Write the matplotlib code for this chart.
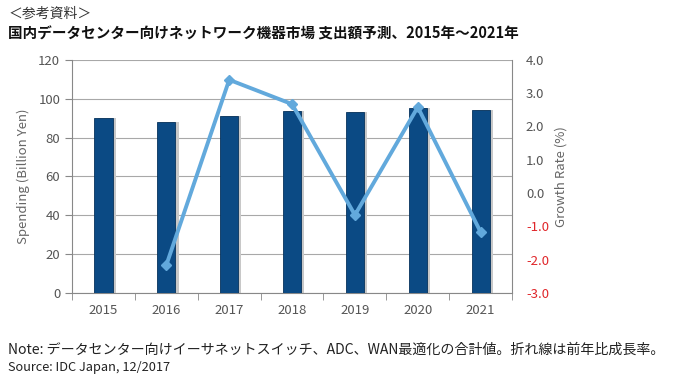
import matplotlib
matplotlib.use("Agg")
import matplotlib.pyplot as plt
import numpy as np

plt.rcParams['font.family'] = ['Noto Sans CJK JP', 'DejaVu Sans']

years = ["2015", "2016", "2017", "2018", "2019", "2020", "2021"]
spending = [90.1, 88.2, 91.2, 93.6, 93.0, 95.4, 94.3]
growth_years = ["2016", "2017", "2018", "2019", "2020", "2021"]
growth = [-2.16, 3.4, 2.67, -0.66, 2.58, -1.17]
left_ticks = [0, 20, 40, 60, 80, 100, 120]
right_ticks = [-3.0, -2.0, -1.0, 0.0, 1.0, 2.0, 3.0, 4.0]

fig = plt.figure(figsize=(6.8, 3.81), dpi=100)
ax = fig.add_axes([0.106, 0.231, 0.647, 0.612])
x = np.arange(len(years))
bar_color = "#0b4a84"
# shadow
ax.bar(x + 0.05, spending, width=0.29, color="#c8c8c8", zorder=2)
ax.bar(x, spending, width=0.29, color=bar_color, edgecolor="#06325c", linewidth=0.6, zorder=3)
ax.set_xlim(-0.5, len(years) - 0.5)
ax.set_ylim(0, 120)
ax.set_yticks(left_ticks)
ax.set_xticks(x)
ax.set_xticklabels(years)
ax.set_xticks(np.arange(-0.5, len(years), 1.0), minor=True)
ax.tick_params(axis='x', which='major', length=0, pad=8, labelsize=9.5, colors="#555555")
ax.tick_params(axis='x', which='minor', length=5, direction='out', color="#888888")
ax.tick_params(axis='y', length=5, color="#888888", labelsize=9.5, colors="#555555")
ax.grid(axis='y', color="#a8a8a8", linewidth=0.8, zorder=0)
ax.set_axisbelow(True)
for s in ['left', 'bottom', 'right']:
    ax.spines[s].set_color("#888888")
ax.spines['top'].set_visible(False)
ax.set_ylabel("Spending (Billion Yen)", color="#666666", fontsize=9.5, labelpad=6)

ax2 = ax.twinx()
ax2.set_ylim(-3.0, 4.0)
ax2.set_yticks(right_ticks)
ax2.set_yticklabels([f"{t:.1f}" for t in right_ticks])
gx = [years.index(y) for y in growth_years]
ax2.plot(gx, growth, color="#62a9dc", linewidth=2.8, marker='D', markersize=5, zorder=5)
ax2.tick_params(axis='y', length=0, labelsize=9.5, pad=10)
for lab, t in zip(ax2.get_yticklabels(), right_ticks):
    lab.set_color("#e0262a" if t < 0 else "#555555")
for s in ['left', 'bottom', 'right', 'top']:
    ax2.spines[s].set_visible(False)
ax2.set_ylabel("Growth Rate (%)", color="#666666", fontsize=9.5, labelpad=4)

fig.text(0.012, 0.963, "＜参考資料＞", fontsize=10, color="#333333", va='center')
fig.text(0.012, 0.913, "国内データセンター向けネットワーク機器市場 支出額予測、2015年～2021年", fontsize=10.5,
         fontweight='bold', color="#111111", va='center')
fig.text(0.012, 0.082, "Note: データセンター向けイーサネットスイッチ、ADC、WAN最適化の合計値。折れ線は前年比成長率。",
         fontsize=10.1, color="#222222", va='center')
fig.text(0.012, 0.036, "Source: IDC Japan, 12/2017", fontsize=9.2, color="#222222", va='center')

fig.savefig("out.png", dpi=100)
